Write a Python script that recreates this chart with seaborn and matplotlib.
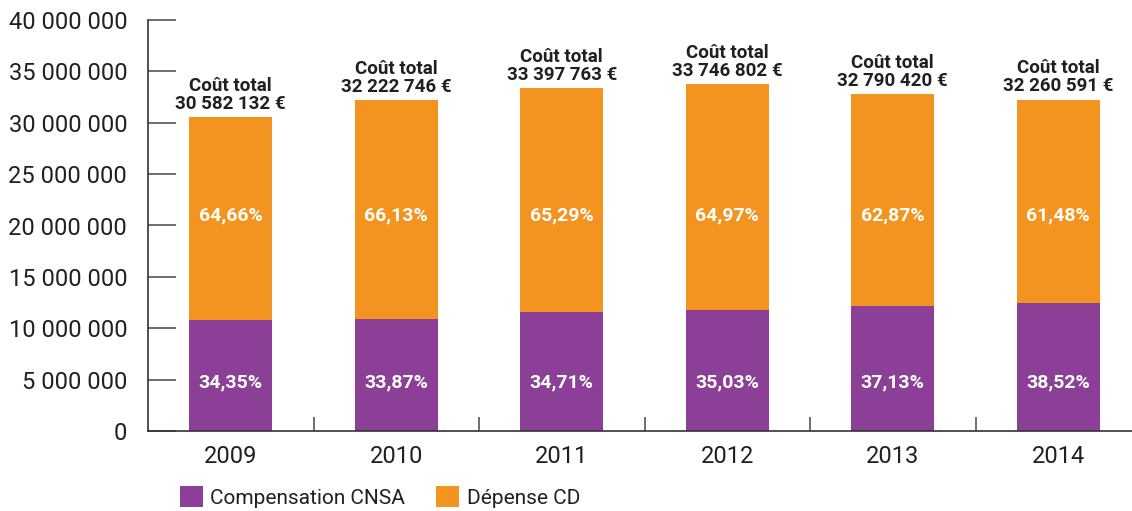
import matplotlib
matplotlib.use("Agg")
import matplotlib.pyplot as plt
import matplotlib.ticker as mticker
from matplotlib.patches import Patch
import seaborn as sns
import pandas as pd

years = ["2009", "2010", "2011", "2012", "2013", "2014"]
total_cost = [30582132, 32222746, 33397763, 33746802, 32790420, 32260591]
compensation_cnsa = [10800000, 10910000, 11590000, 11820000, 12170000, 12430000]
pct_cnsa = ["34,35%", "33,87%", "34,71%", "35,03%", "37,13%", "38,52%"]
pct_cd = ["64,66%", "66,13%", "65,29%", "64,97%", "62,87%", "61,48%"]
series_names = ["Compensation CNSA", "Dépense CD"]

PURPLE = "#8C3F97"
ORANGE = "#F39320"
TXT = "#231F20"

sns.set_theme(style="white")
plt.rcParams["font.family"] = ["Roboto", "DejaVu Sans"]

df = pd.DataFrame({"year": years, "total": total_cost, "cnsa": compensation_cnsa})

fig = plt.figure(figsize=(11.32, 5.11), dpi=100)
ax = fig.add_axes([148 / 1132, 1 - 431 / 511, (1141 - 148) / 1132, (431 - 20) / 511])

sns.barplot(data=df, x="year", y="total", color=ORANGE, width=0.5, ax=ax,
            saturation=1, edgecolor="none")
sns.barplot(data=df, x="year", y="cnsa", color=PURPLE, width=0.5, ax=ax,
            saturation=1, edgecolor="none")

ax.set_xlim(-0.5, 5.5)
ax.set_ylim(0, 40000000)
ax.set_xlabel("")
ax.set_ylabel("")

ax.yaxis.set_major_locator(mticker.MultipleLocator(5000000))
ax.yaxis.set_major_formatter(mticker.FuncFormatter(lambda v, p: f"{int(v):,}".replace(",", " ")))
ax.tick_params(axis="y", which="major", direction="in", length=20, width=1.2,
               color="#555555", labelsize=17, labelcolor=TXT, pad=15, left=True)
ax.xaxis.set_minor_locator(mticker.FixedLocator([0.5, 1.5, 2.5, 3.5, 4.5]))
ax.tick_params(axis="x", which="major", length=0, labelsize=17, labelcolor=TXT, pad=10)
ax.tick_params(axis="x", which="minor", direction="in", length=10, width=1.2,
               color="#555555", bottom=True)

for s in ["top", "right"]:
    ax.spines[s].set_visible(False)
for s in ["left", "bottom"]:
    ax.spines[s].set_color("#333333")
    ax.spines[s].set_linewidth(1.2)

for i in range(len(years)):
    tot = total_cost[i]
    lab = f"{tot:,}".replace(",", " ") + " €"
    ax.annotate(f"Coût total\n{lab}", xy=(i, tot), xytext=(0, 3), textcoords="offset points",
                ha="center", va="bottom", fontsize=13.5, fontweight="bold", color=TXT,
                linespacing=1.0)
    ax.text(i, 21000000, pct_cd[i], ha="center", va="center", fontsize=14,
            fontweight="bold", color="white")
    ax.text(i, 4700000, pct_cnsa[i], ha="center", va="center", fontsize=14,
            fontweight="bold", color="white")

handles = [Patch(facecolor=PURPLE, edgecolor="none"), Patch(facecolor=ORANGE, edgecolor="none")]
fig.legend(handles, series_names, loc="upper left", bbox_to_anchor=(178 / 1132, 1 - 484 / 511),
           ncol=2, frameon=False, fontsize=15, handlelength=1.1, handleheight=1.2,
           handletextpad=0.35, columnspacing=1.5, labelcolor=TXT, borderaxespad=0,
           borderpad=0.1)

fig.savefig("out.png", dpi=100)
